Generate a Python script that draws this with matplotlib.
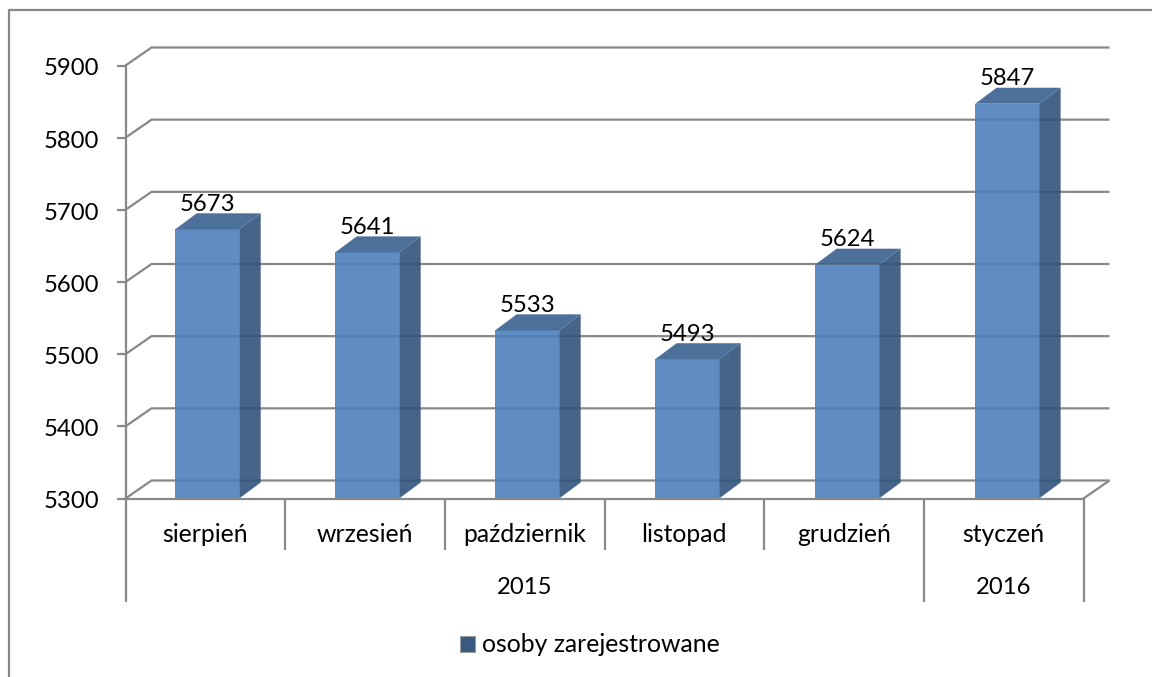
import matplotlib
matplotlib.use("Agg")
import matplotlib.pyplot as plt
from matplotlib.lines import Line2D
from matplotlib.patches import Polygon, Patch

months = ["sierpień", "wrzesień", "październik", "listopad", "grudzień", "styczeń"]
values = [5673, 5641, 5533, 5493, 5624, 5847]
year_labels = ["2015", "2016"]
year_spans = [(0, 5), (5, 6)]
y_ticks = [5300, 5400, 5500, 5600, 5700, 5800, 5900]
series_name = "osoby zarejestrowane"

W, H = 1152, 677
GRID = "#888888"
FRONT = "#4d80bc"
SIDE = "#31537a"
TOP = "#3a6190"
LEG = "#3b5a80"
FS_NUM = 17.2
FS_TXT = 17.8
LW = 1.6
plt.rcParams["font.family"] = ["Lato", "DejaVu Sans"]

fig = plt.figure(figsize=(W / 100, H / 100), dpi=100, facecolor="white")
L, R, T, B = 125.5, 1083.5, 65.5, 498.5
ax = fig.add_axes([L / W, 1 - B / H, (R - L) / W, (B - T) / H])
ax.set_xlim(0, len(months))
ax.set_ylim(y_ticks[0], y_ticks[-1])
ax.axis("off")

ux = len(months) / (R - L)       # data per pixel, x
uy = (y_ticks[-1] - y_ticks[0]) / (B - T)  # data per pixel, y
gdx, gdy = 26 * ux, 18 * uy      # depth of the back wall
bdx, bdy = 21.5 * ux, 16 * uy    # depth of a bar
xmax = len(months)
base = y_ticks[0]
line = dict(color=GRID, lw=LW, clip_on=False, solid_capstyle="butt", zorder=1)

# walls and gridlines
for v in y_ticks:
    ax.plot([0, gdx, xmax + gdx], [v, v + gdy, v + gdy], **line)
    ax.plot([-8.5 * ux, 0], [v, v], **line)
    ax.text(-26 * ux, v - 10 * uy, str(v), ha="right", va="baseline", fontsize=FS_NUM, color="black", clip_on=False)
ax.plot([xmax, xmax + gdx], [base, base + gdy], **line)

# bars
w = 64 * ux
for i, v in enumerate(values):
    c = (i + 0.5) * 1.002 + 1.7 * ux   # bars stand part-way into the floor depth
    x0, x1 = c - w / 2, c + w / 2
    ax.bar(c, v - base, w, bottom=base, color=FRONT, alpha=0.9, lw=0, zorder=3, clip_on=False)
    ax.add_patch(Polygon([(x1, base), (x1 + bdx, base + bdy), (x1 + bdx, v + bdy), (x1, v)],
                         fc=SIDE, alpha=0.9, lw=0, zorder=3, clip_on=False))
    ax.add_patch(Polygon([(x0, v), (x1, v), (x1 + bdx, v + bdy), (x0 + bdx, v + bdy)],
                         fc=TOP, alpha=0.9, lw=0, zorder=3, clip_on=False))
    ax.text(c, v + 18.5 * uy, str(v), ha="center", va="baseline", fontsize=FS_NUM, color="black",
            zorder=5, clip_on=False)

# axis lines and category table
top_line = dict(line, zorder=4)
ax.plot([0, xmax], [base, base], **top_line)
ax.plot([0, 0], [y_ticks[-1], base], **top_line)
low1 = base - 51 * uy
low2 = base - 103 * uy
for i in range(xmax + 1):
    bottom = low2 if i in (0, 5, 6) else low1
    ax.plot([i, i], [base, bottom], **top_line)
for i, m in enumerate(months):
    ax.text(i + 0.5, base - 43.5 * uy, m, ha="center", va="baseline", fontsize=FS_TXT, color="black", clip_on=False)
for lab, (a, b) in zip(year_labels, year_spans):
    ax.text((a + b) / 2, base - 95 * uy, lab, ha="center", va="baseline", fontsize=FS_NUM, color="black", clip_on=False)

# legend
fig.legend(handles=[Patch(fc=LEG, ec="#9a9a9a", lw=0.6, label=series_name)],
           loc="center", bbox_to_anchor=(590 / W, 1 - 645 / H), frameon=False, fontsize=FS_TXT,
           handlelength=0.6, handleheight=0.6, handletextpad=0.28, borderpad=0, borderaxespad=0)

# outer frame
fig.add_artist(Line2D([8.5 / W, 8.5 / W, 1], [0, 1 - 10 / H, 1 - 10 / H], color=GRID, lw=LW,
                      transform=fig.transFigure))

fig.savefig("out.png", dpi=100, facecolor="white")
